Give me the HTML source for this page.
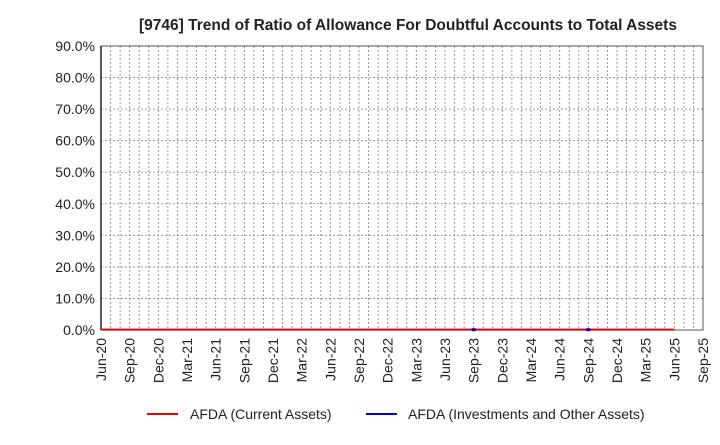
<!DOCTYPE html>
<html><head><meta charset="utf-8"><style>
body{margin:0;background:#fff;font-family:"Liberation Sans",sans-serif;}
svg text{font-family:"Liberation Sans",sans-serif;}
</style></head><body>
<svg width="720" height="440" xmlns="http://www.w3.org/2000/svg">
<text x="408" y="30" text-anchor="middle" font-size="15.5" font-weight="bold" fill="#222">[9746]  Trend of Ratio of Allowance For Doubtful Accounts to Total Assets</text>
<g id="grid"></g><g id="axes"></g><g id="series"></g>
<g>
<line x1="147" y1="414" x2="178" y2="414" stroke="#e00" stroke-width="2"/>
<text x="190" y="419" font-size="14" fill="#222">AFDA (Current Assets)</text>
<line x1="366" y1="414" x2="397" y2="414" stroke="#00c" stroke-width="2"/>
<text x="408" y="419" font-size="14" fill="#222">AFDA (Investments and Other Assets)</text>
</g>
</svg>
<script>
const xLabels=["Jun-20","Sep-20","Dec-20","Mar-21","Jun-21","Sep-21","Dec-21","Mar-22","Jun-22","Sep-22","Dec-22","Mar-23","Jun-23","Sep-23","Dec-23","Mar-24","Jun-24","Sep-24","Dec-24","Mar-25","Jun-25","Sep-25"];
const yTicks=[0,10,20,30,40,50,60,70,80,90];
const currentAssets=[0.1,0.1,0.1,0.1,0.1,0.1,0.1,0.1,0.1,0.1,0.1,0.1,0.1,0.1,0.1,0.1,0.1,0.1,0.1,0.1,0.1,null];
const investments=[null,null,null,null,null,null,null,null,null,null,null,null,null,0.1,null,null,null,0.1,null,null,null,null];
const NS="http://www.w3.org/2000/svg";
const L=101,R=703,T=46,B=330,months=63;
const x=q=>L+(q*3)*(R-L)/months;
const y=v=>B-v/90*(B-T);
function mk(tag,attrs,parent){const e=document.createElementNS(NS,tag);for(const k in attrs)e.setAttribute(k,attrs[k]);parent.appendChild(e);return e;}
const grid=document.getElementById('grid'),axes=document.getElementById('axes'),ser=document.getElementById('series');
for(let m=1;m<=months;m++){const xx=L+m*(R-L)/months;
const g=mk('line',{x1:xx,y1:T,x2:xx,y2:B,stroke:'#999','stroke-dasharray':'2,2','stroke-width':1},grid);

}
yTicks.forEach(v=>{
if(v>0){const g=mk('line',{x1:L,y1:y(v),x2:R,y2:y(v),stroke:'#999','stroke-dasharray':'2,2'},grid);

}
const t=mk('text',{x:L-6,y:y(v)+5,'text-anchor':'end','font-size':14,fill:'#222'},axes);t.textContent=v.toFixed(1)+'%';

});
const fr=mk('rect',{x:L,y:T,width:R-L,height:B-T,fill:'none',stroke:'#555'},axes);


const yl=mk('line',{x1:L,y1:T,x2:L,y2:B,stroke:'#222','stroke-width':1.5},axes);


xLabels.forEach((s,i)=>{const xx=x(i)+5;
const t=mk('text',{x:0,y:0,'text-anchor':'end','font-size':14,fill:'#222',transform:`translate(${xx},338) rotate(-90)`},axes);t.textContent=s;

});
function line(data,color,name){let d='',pen=false;
data.forEach((v,i)=>{if(v==null){pen=false;return;}d+=(pen?'L':'M')+x(i)+','+y(v)+' ';pen=true;});
const p=mk('path',{d:d,fill:'none',stroke:color,'stroke-width':2},ser);

}
line(currentAssets,'#e00','current-assets-line');
investments.forEach((v,i)=>{if(v==null)return;
const r=mk('rect',{x:x(i)-2,y:y(v)-1.5,width:4,height:3,fill:'#00c'},ser);

});
</script>
</body></html>
